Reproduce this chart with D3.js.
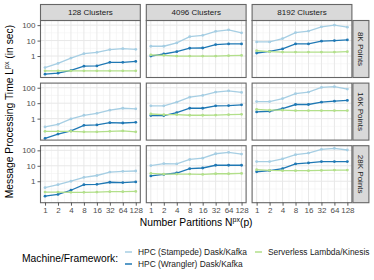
<!DOCTYPE html>
<html>
<head>
<meta charset="utf-8">
<script src="https://cdn.jsdelivr.net/npm/d3@7"></script>
<style>
  body { margin: 0; background: #fff; }
  svg { display: block; font-family: "Liberation Sans", Arial, sans-serif; }
</style>
</head>
<body>
<div id="chart"></div>
<script>
// Facets and x values
const clusters = ["128 Clusters", "4096 Clusters", "8192 Clusters"];
const pointRows = ["8K Points", "16K Points", "28K Points"];
const partitions = [1, 2, 4, 8, 16, 32, 64, 128];
const yTicks = [1, 10, 100];

// Series values, one array per panel (row by row: 8K, 16K, 28K; columns 128, 4096, 8192)
const stampede = [
  [0.18, 0.33, 0.74, 1.42, 1.73, 2.6, 3.0, 2.7],
  [4.3, 4.3, 7.1, 18, 22, 40, 50, 32],
  [8.2, 8.2, 13.5, 33, 41, 78, 100, 74],
  [0.29, 0.43, 0.95, 1.65, 2.2, 3.5, 4.7, 4.3],
  [6.7, 6.7, 11.6, 24.6, 32, 52, 63, 50],
  [12.8, 12.8, 20, 41, 52, 105, 117, 82],
  [0.38, 0.6, 1.0, 1.8, 2.35, 3.9, 4.4, 4.6],
  [10.3, 13.9, 13.2, 25.6, 31, 60, 74, 57],
  [18.8, 18.8, 28, 52, 66, 117, 135, 105]
];
const wrangler = [
  [0.067, 0.078, 0.117, 0.22, 0.23, 0.39, 0.39, 0.45],
  [1.0, 1.35, 1.9, 3.2, 3.3, 5.5, 6.1, 6.1],
  [1.57, 2.0, 2.9, 6.1, 6.1, 9.1, 10, 11],
  [0.052, 0.1, 0.16, 0.37, 0.39, 0.55, 0.52, 0.58],
  [1.57, 1.57, 2.46, 4.7, 4.7, 6.7, 7.0, 7.8],
  [2.7, 3.0, 4.5, 8.2, 8.2, 11.6, 13.5, 15],
  [0.107, 0.14, 0.26, 0.6, 0.63, 0.86, 0.82, 0.9],
  [2.2, 2.75, 3.4, 6.5, 7.2, 10.8, 10.8, 10.8],
  [4.1, 4.8, 6.5, 13.2, 15.4, 18.8, 18.8, 18.8]
];
const serverless = [
  [0.11, 0.11, 0.11, 0.11, 0.11, 0.11, 0.11, 0.11],
  [1.2, 1.1, 1.0, 1.0, 1.0, 1.0, 1.05, 1.1],
  [2.2, 1.9, 1.8, 1.8, 1.8, 1.8, 1.8, 1.9],
  [0.15, 0.15, 0.15, 0.14, 0.14, 0.15, 0.16, 0.14],
  [2.0, 1.8, 1.8, 1.65, 1.65, 1.7, 1.8, 1.9],
  [4.0, 3.5, 3.5, 3.3, 3.3, 3.3, 3.3, 3.3],
  [0.2, 0.2, 0.19, 0.19, 0.2, 0.21, 0.21, 0.22],
  [3.2, 2.9, 2.9, 2.9, 2.75, 3.05, 3.05, 3.2],
  [5.6, 5.0, 4.8, 4.8, 4.8, 5.0, 5.3, 5.3]
];

const seriesNames = ["HPC (Stampede) Dask/Kafka", "HPC (Wrangler) Dask/Kafka", "Serverless Lambda/Kinesis"];
const seriesColors = ["#a6cee3", "#1f78b4", "#b2df8a"];
const seriesData = [stampede, wrangler, serverless];

// Layout
const width = 374, height = 280;
const gridLeft = 40.5, gridTop = 20.5;
const panelW = 99.8, panelH = 57, colGap = 6, rowGap = 5.6;
const stripH = 16, stripW = 16;

const svg = d3.select("#chart").append("svg")
  .attr("width", width)
  .attr("height", height);

// Scales (shared by all panels)
const x = d3.scaleLog().base(2)
  .domain([Math.pow(2, -0.35), Math.pow(2, 7.35)])
  .range([0, panelW]);
const y = d3.scaleLog()
  .domain([Math.pow(10, -1.39), Math.pow(10, 2.3)])
  .range([panelH, 0]);

const minorX = d3.range(0, 7).map(i => Math.pow(2, i + 0.5));
const minorY = [-0.5, 0.5, 1.5].map(e => Math.pow(10, e));

pointRows.forEach((rowName, r) => {
  clusters.forEach((colName, c) => {
    const px = gridLeft + c * (panelW + colGap);
    const py = gridTop + r * (panelH + rowGap);
    const g = svg.append("g").attr("transform", `translate(${px},${py})`);

    // background grid
    g.append("rect").attr("width", panelW).attr("height", panelH).attr("fill", "#fff");
    g.selectAll(".minx").data(minorX).enter().append("line")
      .attr("x1", d => x(d)).attr("x2", d => x(d))
      .attr("y1", 0).attr("y2", panelH)
      .attr("stroke", "#f2f2f2").attr("stroke-width", 0.6);
    g.selectAll(".miny").data(minorY).enter().append("line")
      .attr("y1", d => y(d)).attr("y2", d => y(d))
      .attr("x1", 0).attr("x2", panelW)
      .attr("stroke", "#f2f2f2").attr("stroke-width", 0.6);
    g.selectAll(".majx").data(partitions).enter().append("line")
      .attr("x1", d => x(d)).attr("x2", d => x(d))
      .attr("y1", 0).attr("y2", panelH)
      .attr("stroke", "#e8e8e8").attr("stroke-width", 1);
    g.selectAll(".majy").data(yTicks).enter().append("line")
      .attr("y1", d => y(d)).attr("y2", d => y(d))
      .attr("x1", 0).attr("x2", panelW)
      .attr("stroke", "#e8e8e8").attr("stroke-width", 1);

    // series
    const idx = r * 3 + c;
    seriesData.forEach((s, k) => {
      const vals = s[idx].map((v, i) => ({ p: partitions[i], v: v }));
      const line = d3.line().x(d => x(d.p)).y(d => y(d.v));
      g.append("path").datum(vals)
        .attr("d", line)
        .attr("fill", "none")
        .attr("stroke", seriesColors[k])
        .attr("stroke-width", 1.3);
      g.selectAll(".pt" + k).data(vals).enter().append("circle")
        .attr("cx", d => x(d.p)).attr("cy", d => y(d.v))
        .attr("r", 1.4)
        .attr("fill", seriesColors[k]);
    });

    // panel border
    g.append("rect").attr("width", panelW).attr("height", panelH)
      .attr("fill", "none").attr("stroke", "#666").attr("stroke-width", 1.1);

    // y axis on first column
    if (c === 0) {
      const ya = g.append("g").call(d3.axisLeft(y).tickValues(yTicks).tickFormat(d3.format("d")).tickSize(3).tickPadding(2));
      ya.select(".domain").remove();
      ya.selectAll("line").attr("stroke", "#333").attr("stroke-width", 0.8);
      ya.selectAll("text").attr("fill", "#4d4d4d").style("font-size", "8px");
    }
    // x axis on last row
    if (r === pointRows.length - 1) {
      const xa = g.append("g").attr("transform", `translate(0,${panelH})`)
        .call(d3.axisBottom(x).tickValues(partitions).tickFormat(d3.format("d")).tickSize(3).tickPadding(1.5));
      xa.select(".domain").remove();
      xa.selectAll("line").attr("stroke", "#333").attr("stroke-width", 0.8);
      xa.selectAll("text").attr("fill", "#4d4d4d").style("font-size", "8px");
    }
    // top strips
    if (r === 0) {
      g.append("rect").attr("y", -stripH).attr("width", panelW).attr("height", stripH)
        .attr("fill", "#d9d9d9").attr("stroke", "#666").attr("stroke-width", 1.1);
      g.append("text").attr("x", panelW / 2).attr("y", -stripH / 2)
        .attr("text-anchor", "middle").attr("dominant-baseline", "central")
        .attr("fill", "#1a1a1a").style("font-size", "8px").text(colName);
    }
    // right strips
    if (c === clusters.length - 1) {
      g.append("rect").attr("x", panelW + 1).attr("width", stripW).attr("height", panelH)
        .attr("fill", "#d9d9d9").attr("stroke", "#666").attr("stroke-width", 1.1);
      g.append("text")
        .attr("transform", `translate(${panelW + 1 + stripW / 2},${panelH / 2}) rotate(90)`)
        .attr("text-anchor", "middle").attr("dominant-baseline", "central")
        .attr("fill", "#1a1a1a").style("font-size", "8px").text(rowName);
    }
  });
});

// Axis titles
const panelsRight = gridLeft + 3 * panelW + 2 * colGap;
const panelsBottom = gridTop + 3 * panelH + 2 * rowGap;

const xt = svg.append("text")
  .attr("x", (gridLeft + panelsRight) / 2).attr("y", panelsBottom + 23)
  .attr("text-anchor", "middle").style("font-size", "10.3px").attr("fill", "#000");
xt.append("tspan").text("Number Partitions N");
xt.append("tspan").attr("dy", -4).style("font-size", "7px").text("px");
xt.append("tspan").attr("dy", 4).text("(p)");

const yt = svg.append("text")
  .attr("transform", `translate(13,${(gridTop + panelsBottom) / 2}) rotate(-90)`)
  .attr("text-anchor", "middle").style("font-size", "10.3px").attr("fill", "#000");
yt.append("tspan").text("Message Processing Time L");
yt.append("tspan").attr("dy", -4).style("font-size", "7px").text("px");
yt.append("tspan").attr("dy", 4).text(" (in sec)");

// Legend
svg.append("text").attr("x", 22).attr("y", 258)
  .attr("dominant-baseline", "central").style("font-size", "10.3px")
  .text("Machine/Framework:");

const legendPos = [[125, 252], [125, 264], [255, 252]];
seriesNames.forEach((name, k) => {
  const [lx, ly] = legendPos[k];
  svg.append("line").attr("x1", lx).attr("x2", lx + 7)
    .attr("y1", ly).attr("y2", ly)
    .attr("stroke", seriesColors[k]).attr("stroke-width", 1.5);
  svg.append("text").attr("x", lx + 13).attr("y", ly)
    .attr("dominant-baseline", "central").style("font-size", "8.4px")
    .attr("fill", "#1a1a1a").text(name);
});
</script>
</body>
</html>
